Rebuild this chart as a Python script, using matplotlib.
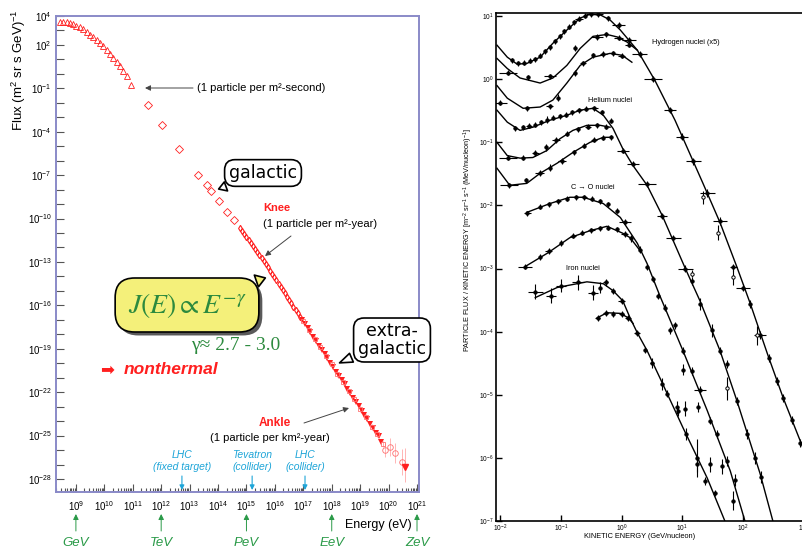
import numpy as np
import matplotlib.pyplot as plt
import matplotlib.patheffects as pe
from matplotlib.ticker import FixedLocator, FuncFormatter, LogLocator, NullFormatter, NullLocator

W, H = 802, 549

# ---------------- left panel: all-particle spectrum (log10 E [eV], log10 flux) ----------------
tri_loge = [8.44, 8.55, 8.67, 8.79, 8.90, 9.02, 9.14, 9.26, 9.38, 9.49, 9.61, 9.73,
            9.85, 9.96, 10.08, 10.20, 10.31, 10.43, 10.55, 10.67, 10.79, 10.94]
tri_logf = [3.61, 3.59, 3.57, 3.50, 3.43, 3.32, 3.23, 3.09, 2.90, 2.72, 2.54, 2.36,
            2.13, 1.90, 1.67, 1.40, 1.10, 0.80, 0.53, 0.18, -0.16, -0.79]

dia_loge = [11.54, 12.03, 12.63, 13.30, 13.61, 13.75, 14.04, 14.32, 14.56]
dia_logf = [-2.16, -3.53, -5.18, -6.96, -7.70, -8.10, -8.80, -9.56, -10.10]

knee_loge = [14.77, 14.85, 14.93, 15.00, 15.08, 15.15, 15.23, 15.30, 15.38, 15.45,
             15.53, 15.60, 15.68, 15.75, 15.83, 15.90, 15.98, 16.05, 16.13, 16.20,
             16.28, 16.35, 16.43, 16.50, 16.58, 16.65, 16.73, 16.80, 16.88]
knee_logf = [-10.66, -10.88, -11.10, -11.29, -11.50, -11.70, -11.90, -12.08, -12.30, -12.49,
             -12.72, -12.93, -13.17, -13.38, -13.62, -13.83, -14.07, -14.28, -14.52, -14.73,
             -14.97, -15.18, -15.42, -15.63, -15.87, -16.08, -16.32, -16.53, -16.77]

uhe_loge = [16.95, 17.05, 17.15, 17.25, 17.35, 17.45, 17.55, 17.65, 17.75, 17.85,
            17.95, 18.05, 18.15, 18.25, 18.35, 18.45, 18.55, 18.65, 18.75, 18.85,
            18.95, 19.05, 19.15, 19.25, 19.35, 19.45, 19.55, 19.65, 19.75]
uhe_logf = [-16.98, -17.28, -17.58, -17.87, -18.18, -18.47, -18.78, -19.07, -19.38, -19.66,
            -19.98, -20.27, -20.58, -20.86, -21.18, -21.46, -21.78, -22.05, -22.38, -22.66,
            -22.98, -23.27, -23.60, -23.86, -24.20, -24.45, -24.80, -25.05, -25.45]

uhe2_loge = [17.00, 17.20, 17.40, 17.60, 17.80, 18.00, 18.20, 18.40, 18.60, 18.80,
             19.00, 19.20, 19.40, 19.60, 19.80]
uhe2_logf = [-17.05, -17.68, -18.30, -18.86, -19.52, -20.08, -20.75, -21.30, -21.95, -22.48,
             -23.15, -23.70, -24.38, -24.88, -25.60]

top_loge = [19.87, 20.05, 20.22, 20.47]
top_logf = [-26.00, -25.80, -26.20, -26.80]
top_logerr = [0.5, 0.6, 0.7, 0.9]

limit_loge = [20.58]
limit_logf = [-27.20]

y_label_exp = [4, 2, -1, -4, -7, -10, -13, -16, -19, -22, -25, -28]
x_label_exp = list(range(9, 22))
unit_names = ['GeV', 'TeV', 'PeV', 'EeV', 'ZeV']
unit_exp = [9, 12, 15, 18, 21]
machines = ['LHC\n(fixed target)', 'Tevatron\n(collider)', 'LHC\n(collider)']
machine_loge = [12.73, 15.20, 17.06]

# ---------------- right panel: element spectra (log10 GeV/nucleon, log10 flux) ----------------
h1_curve = [(-2.05, 0.54), (-1.88, 0.35), (-1.72, 0.24), (-1.56, 0.25), (-1.34, 0.35),
            (-1.13, 0.57), (-0.90, 0.78), (-0.68, 0.97), (-0.52, 1.03), (-0.35, 1.02),
            (-0.19, 0.94), (-0.02, 0.78), (0.26, 0.46), (0.55, -0.02), (0.88, -0.65),
            (1.34, -1.65), (1.62, -2.27), (1.90, -2.98), (2.12, -3.56), (2.40, -4.35),
            (2.66, -5.05), (2.94, -5.73), (3.10, -6.13)]
h2_curve = [(-2.05, 0.33), (-1.88, 0.17), (-1.67, 0.02), (-1.34, -0.06), (-1.13, 0.02),
            (-0.90, 0.22), (-0.68, 0.49), (-0.47, 0.68), (-0.24, 0.71), (-0.07, 0.67),
            (0.09, 0.59), (0.26, 0.46)]
h3_curve = [(-2.05, -0.10), (-1.88, -0.30), (-1.62, -0.46), (-1.34, -0.44), (-1.13, -0.33),
            (-0.90, -0.06), (-0.68, 0.22), (-0.47, 0.35), (-0.19, 0.41), (0.01, 0.38),
            (0.17, 0.27)]
he1_curve = [(-2.05, -0.49), (-1.88, -0.68), (-1.67, -0.81), (-1.46, -0.76), (-1.18, -0.65),
             (-0.90, -0.57), (-0.68, -0.49), (-0.47, -0.46), (-0.30, -0.57), (-0.14, -0.78),
             (0.02, -1.10), (0.19, -1.37), (0.42, -1.68), (0.67, -2.16), (1.05, -3.00),
             (1.29, -3.51), (1.62, -4.30), (1.90, -5.10), (2.28, -6.25), (2.49, -7.00)]
he2_curve = [(-2.05, -1.00), (-1.88, -1.21), (-1.67, -1.25), (-1.46, -1.24), (-1.23, -1.13),
             (-1.01, -0.94), (-0.80, -0.81), (-0.57, -0.73), (-0.35, -0.73), (-0.19, -0.76)]
he3_curve = [(-2.05, -1.41), (-1.84, -1.68), (-1.56, -1.65), (-1.34, -1.49), (-1.06, -1.33),
             (-0.80, -1.16), (-0.52, -1.00), (-0.30, -0.92), (-0.16, -0.92)]
c1_curve = [(-1.56, -2.11), (-1.18, -1.97), (-0.85, -1.87), (-0.63, -1.87), (-0.30, -1.97),
            (-0.02, -2.19), (0.26, -2.60), (0.42, -2.92), (0.63, -3.43), (1.01, -4.30),
            (1.41, -5.25), (1.79, -6.21), (2.03, -7.00)]
c2_curve = [(-1.59, -2.97), (-1.21, -2.75), (-0.85, -2.51), (-0.52, -2.40), (-0.24, -2.33),
            (0.02, -2.44), (0.14, -2.51), (0.30, -2.71)]
fe1_curve = [(-1.42, -3.46), (-1.06, -3.30), (-0.57, -3.21), (-0.30, -3.24), (-0.14, -3.35),
             (0.02, -3.51), (0.14, -3.78), (0.26, -4.02), (0.42, -4.30), (0.63, -4.73),
             (1.01, -5.52), (1.41, -6.32), (1.70, -7.00)]
fe2_curve = [(-0.40, -3.78), (-0.24, -3.70), (-0.02, -3.71), (0.11, -3.78), (0.19, -3.87)]

# data points: (log E, log flux, x half-width in decades, y half-width in decades)
h_pts = [(-1.80, 0.30, 0, .04), (-1.70, 0.25, 0, .04), (-1.60, 0.26, 0, .04), (-1.50, 0.29, 0, .04),
         (-1.42, 0.32, 0, .04), (-1.34, 0.37, 0, .04), (-1.26, 0.44, 0, .04), (-1.18, 0.51, 0, .04),
         (-1.10, 0.60, 0, .04), (-1.02, 0.68, 0, .04), (-0.94, 0.76, 0, .04), (-0.86, 0.83, 0, .04),
         (-0.78, 0.90, 0, .04), (-0.70, 0.96, .06, .04), (-0.60, 1.01, 0, .04), (-0.50, 1.03, .08, .04),
         (-0.38, 1.03, .08, .04), (-0.22, 0.97, 0, .04), (-0.05, 0.86, .10, .04), (0.12, 0.62, .12, .05),
         (0.30, 0.40, .12, .05), (0.52, 0.00, .15, .05), (0.80, -0.49, .10, .05), (1.00, -0.91, .10, .06),
         (1.18, -1.30, .12, .06), (1.41, -1.80, .12, .06), (1.62, -2.25, .12, .06), (1.84, -2.98, .06, .06),
         (2.00, -3.30, .12, .06), (2.12, -3.56, 0, .06), (2.28, -4.05, .10, .06), (2.42, -4.42, 0, .06),
         (2.55, -4.78, 0, .06), (2.66, -5.05, 0, .06), (2.80, -5.40, 0, .06), (2.94, -5.76, 0, .06)]
h_side_pts = [(1.34, -1.87, 0, .10), (1.59, -2.43, 0, .12), (1.84, -3.14, 0, .12), (2.23, -4.06, 0, .15)]
h2_pts = [(-1.87, 0.10, .15, .04), (-1.54, 0.03, 0, .04), (-1.18, 0.05, .10, .04), (-0.77, 0.49, 0, .05),
          (-0.40, 0.67, .10, .04), (-0.25, 0.71, 0, .04), (-0.05, 0.66, .08, .04), (0.12, 0.55, .06, .04)]
h3_pts = [(-2.00, -0.37, .12, .04), (-1.56, -0.46, 0, .04), (-1.18, -0.43, .06, .04), (-1.05, -0.29, 0, .05),
          (-0.77, 0.10, 0, .05), (-0.63, 0.25, .05, .04), (-0.47, 0.38, 0, .04), (-0.30, 0.40, .06, .04),
          (-0.14, 0.41, 0, .04), (0.00, 0.37, .06, .04)]
he1_pts = [(-1.75, -0.78, 0, .04), (-1.62, -0.76, 0, .04), (-1.52, -0.74, .05, .04), (-1.42, -0.72, 0, .04),
           (-1.32, -0.68, 0, .04), (-1.22, -0.64, 0, .05), (-1.12, -0.61, 0, .04), (-1.02, -0.59, 0, .04),
           (-0.92, -0.56, 0, .04), (-0.82, -0.52, 0, .04), (-0.70, -0.49, .05, .04), (-0.58, -0.47, 0, .04),
           (-0.45, -0.46, .06, .04), (-0.32, -0.52, 0, .04), (-0.18, -0.66, 0, .04)]
he2_pts = [(-1.87, -1.24, .15, .04), (-1.62, -1.24, 0, .04), (-1.42, -1.17, .06, .05), (-1.25, -1.08, 0, .05),
           (-1.08, -0.96, .06, .05), (-0.90, -0.86, 0, .04), (-0.72, -0.79, 0, .04), (-0.55, -0.75, .05, .04),
           (-0.40, -0.73, 0, .04), (-0.25, -0.75, 0, .04)]
he3_pts = [(-1.85, -1.68, .15, .04), (-1.58, -1.60, 0, .04), (-1.35, -1.48, .08, .05), (-1.18, -1.40, 0, .05),
           (-0.98, -1.30, .06, .05), (-0.78, -1.16, 0, .04), (-0.62, -1.05, 0, .04), (-0.45, -0.96, .05, .04),
           (-0.30, -0.93, 0, .04), (-0.18, -0.92, 0, .04)]
he_pts = [(0.02, -1.13, .10, .04), (0.19, -1.34, .10, .04), (0.42, -1.66, .15, .05), (0.67, -2.17, .08, .05),
          (0.85, -2.52, .12, .05), (1.05, -3.00, .12, .05), (1.16, -3.20, 0, .06), (1.29, -3.56, 0, .10),
          (1.49, -3.98, 0, .10), (1.62, -4.30, 0, .06), (1.74, -4.51, 0, .06), (1.90, -5.10, 0, .06),
          (2.07, -5.62, 0, .08), (2.20, -6.00, 0, .10), (2.30, -6.30, 0, .10)]
he_side_pts = [(1.16, -3.08, 0, .06), (1.74, -4.90, 0, .18)]
c1_pts = [(-1.55, -2.12, .06, .04), (-1.35, -2.02, 0, .04), (-1.20, -1.98, 0, .04), (-1.05, -1.93, .05, .04),
          (-0.90, -1.89, 0, .04), (-0.75, -1.87, 0, .04), (-0.62, -1.87, .05, .04), (-0.48, -1.89, 0, .04),
          (-0.35, -1.93, 0, .04), (-0.22, -1.98, 0, .04), (-0.08, -2.08, 0, .04), (0.05, -2.26, .10, .04)]
c2_pts = [(-1.59, -2.97, .12, .04), (-1.35, -2.82, 0, .05), (-1.20, -2.72, .06, .05), (-1.00, -2.60, 0, .05),
          (-0.80, -2.48, .05, .04), (-0.65, -2.43, 0, .04), (-0.50, -2.39, .06, .04), (-0.35, -2.36, 0, .04),
          (-0.22, -2.35, 0, .04), (-0.08, -2.38, 0, .04), (0.05, -2.45, .06, .05), (0.16, -2.52, 0, .06)]
c_pts = [(0.30, -2.70, 0, .05), (0.42, -2.98, 0, .05), (0.52, -3.16, 0, .05), (0.60, -3.43, 0, .05),
         (0.72, -3.62, 0, .06), (0.88, -3.90, 0, .06), (1.01, -4.30, 0, .06), (1.16, -4.62, 0, .06),
         (1.29, -4.92, .10, .06), (1.46, -5.41, 0, .06), (1.57, -5.62, 0, .06), (1.74, -6.05, 0, .08),
         (1.86, -6.35, 0, .10)]
c_side_pts = [(0.80, -3.98, 0, .06), (1.01, -4.60, 0, .08), (1.05, -5.22, 0, .12), (1.26, -5.20, 0, .08),
              (1.46, -6.10, 0, .12), (1.65, -6.13, 0, .12), (1.84, -6.68, 0, .15)]
fe1_pts = [(-1.42, -3.37, .12, .12), (-1.16, -3.43, .08, .12), (-1.00, -3.27, .08, .10), (-0.72, -3.22, .10, .12),
           (-0.47, -3.38, .08, .12), (-0.35, -3.30, 0, .08), (-0.26, -3.22, .04, .06), (-0.14, -3.35, .04, .05),
           (0.00, -3.51, .06, .05)]
fe2_pts = [(-0.39, -3.78, .04, .05), (-0.26, -3.70, .04, .05), (-0.14, -3.72, 0, .05), (0.00, -3.72, .04, .05),
           (0.11, -3.78, .05, .05)]
fe_pts = [(0.26, -4.02, .05, .05), (0.39, -4.29, 0, .05), (0.50, -4.49, .03, .08), (0.67, -4.83, 0, .10),
          (0.75, -4.98, 0, .06), (0.93, -5.25, 0, .08), (1.06, -5.62, 0, .10), (1.24, -6.10, 0, .12),
          (1.38, -6.37, 0, .06), (1.54, -6.56, 0, .05)]
fe_side_pts = [(0.91, -5.20, 0, .10), (1.24, -6.00, 0, .30)]

right_labels = ['Hydrogen nuclei (x5)', 'Helium nuclei', 'C \u2192 O nuclei', 'Iron nuclei']

# ---------------- style ----------------
plt.rcParams['font.family'] = ['Liberation Sans', 'DejaVu Sans']
plt.rcParams['mathtext.fontset'] = 'custom'
plt.rcParams['mathtext.rm'] = 'Liberation Sans'
plt.rcParams['mathtext.it'] = 'Liberation Sans:italic'
plt.rcParams['mathtext.bf'] = 'Liberation Sans:bold'

red = '#ff1f1f'
green = '#2a9a48'
blue = '#1ea5d8'
frame = '#8a8ac8'

fig = plt.figure(figsize=(W / 100, H / 100), dpi=100)


def fp(x, y):
    # image pixel (from top-left) -> figure pixels
    return (x, H - y)


def ftext(x, y, s, **kw):
    return fig.text(x / W, 1 - y / H, s, **kw)


# ================= left panel =================
ax1 = fig.add_axes([56 / W, 1 - 492 / H, (419 - 56) / W, (492 - 16) / H])
ax1.set_xscale('log')
ax1.set_yscale('log')
ax1.set_xlim(10 ** 8.3, 10 ** 21.07)
ax1.set_ylim(10 ** -28.9, 1e4)
for s in ax1.spines.values():
    s.set_color(frame)
    s.set_linewidth(1.4)

ax1.yaxis.set_major_locator(FixedLocator([10.0 ** k for k in range(-28, 5)]))
ax1.yaxis.set_minor_locator(NullLocator())
ax1.yaxis.set_major_formatter(FuncFormatter(
    lambda v, p: r'$10^{%d}$' % round(np.log10(v)) if round(np.log10(v)) in y_label_exp else ''))
ax1.xaxis.set_major_locator(FixedLocator([10.0 ** k for k in x_label_exp]))
ax1.xaxis.set_minor_locator(LogLocator(base=10, subs=np.arange(2, 10), numticks=60))
ax1.xaxis.set_minor_formatter(NullFormatter())
ax1.xaxis.set_major_formatter(FuncFormatter(lambda v, p: r'$10^{%d}$' % round(np.log10(v))))
ax1.tick_params(which='both', direction='in', color='#555555', width=0.8, labelsize=7)
ax1.tick_params(axis='x', which='major', length=6, pad=5)
ax1.tick_params(axis='x', which='minor', length=3)
ax1.tick_params(axis='y', which='major', length=6, pad=3)

E = lambda a: 10.0 ** np.array(a)

ax1.plot(E(tri_loge), E(tri_logf), '^', ms=4.5, mfc='none', mec=red, mew=0.6)
ax1.plot(E(dia_loge), E(dia_logf), 'D', ms=3.8, mfc='none', mec=red, mew=0.6)
ax1.plot(E(knee_loge), E(knee_logf), 'd', ms=3.2, mfc='none', mec=red, mew=0.8)
ax1.errorbar(E(uhe2_loge), E(uhe2_logf),
             yerr=[E(uhe2_logf) * (1 - 10 ** -0.2), E(uhe2_logf) * (10 ** 0.2 - 1)],
             fmt='s', ms=3.5, mfc='none', mec='#ff7070', ecolor='#ffaaaa', elinewidth=0.7, mew=0.6)
ax1.plot(E(uhe_loge), E(uhe_logf), 'v', ms=4.2, color=red, mew=0)
top_f = E(top_logf)
ax1.errorbar(E(top_loge), top_f,
             yerr=[top_f * (1 - 10 ** -np.array(top_logerr)), top_f * (10 ** np.array(top_logerr) - 1)],
             fmt='o', ms=4, mfc='none', mec='#ff7070', ecolor='#ffaaaa', elinewidth=0.6, mew=0.6)
ax1.errorbar(E(limit_loge), E(limit_logf), yerr=[[E(limit_logf)[0] * 0.9], [E(limit_logf)[0] * 20]],
             fmt='v', ms=4.5, color=red, ecolor='#ffaaaa', elinewidth=0.6)

# annotations
arrow_k = dict(arrowstyle='-|>', color='#444444', lw=0.7, mutation_scale=8, shrinkA=0, shrinkB=0)
ftext(197, 88, '(1 particle per m\u00b2-second)', fontsize=8, ha='left', va='center')
ax1.annotate('', xy=fp(145, 88), xycoords='figure pixels', xytext=fp(193, 88),
             textcoords='figure pixels', arrowprops=arrow_k)

bubble = dict(boxstyle='round,pad=0.25,rounding_size=0.6', fc='white', ec='black', lw=1.2)
ax1.annotate('galactic', xy=fp(216, 190), xycoords='figure pixels', xytext=fp(263, 173),
             textcoords='figure pixels', ha='center', va='center', fontsize=12.5,
             family='DejaVu Sans', bbox=bubble, annotation_clip=False,
             arrowprops=dict(arrowstyle='wedge,tail_width=0.55', fc='white', ec='black', lw=1.2))
ax1.annotate('extra-\ngalactic', xy=fp(337, 364), xycoords='figure pixels', xytext=fp(392, 340),
             textcoords='figure pixels', ha='center', va='center', fontsize=12.5,
             family='DejaVu Sans', linespacing=0.95, bbox=bubble, annotation_clip=False,
             arrowprops=dict(arrowstyle='wedge,tail_width=0.55', fc='white', ec='black', lw=1.2))

ftext(263, 208, 'Knee', fontsize=8, color=red, weight='bold', ha='left', va='center')
ftext(263, 224, '(1 particle per m\u00b2-year)', fontsize=8, ha='left', va='center')
ax1.annotate('', xy=fp(265, 256), xycoords='figure pixels', xytext=fp(291, 236),
             textcoords='figure pixels', arrowprops=arrow_k)

# yellow formula box, its patch carries a drop shadow
yellow_box = dict(boxstyle='round,pad=0.45,rounding_size=0.7', fc='#f4f07a', ec='black', lw=1.2)
jbox = ax1.annotate(r'$J(E)\propto E^{-\gamma}$', xy=fp(268, 277), xycoords='figure pixels',
                    xytext=fp(187, 305), textcoords='figure pixels', ha='center', va='center',
                    fontsize=20, color='#2c8a3e', math_fontfamily='stix', bbox=yellow_box,
                    annotation_clip=False, zorder=6,
                    arrowprops=dict(arrowstyle='wedge,tail_width=0.45', fc='#f4f07a', ec='black',
                                    lw=1.2))
jbox.get_bbox_patch().set_path_effects([
    pe.SimplePatchShadow(offset=(2.5, -2.5), shadow_rgbFace='#5a5a5a', alpha=1.0), pe.Normal()])
ftext(236, 345, '\u03b3\u2248 2.7 - 3.0', fontsize=14, color='#2c8a3e', ha='center', va='center',
      family=['Liberation Serif', 'DejaVu Serif'])
ftext(100, 370, '\u27a1', fontsize=12, color=red, ha='left', va='center', family='DejaVu Sans')
ftext(124, 370, 'nonthermal', fontsize=12.5, color=red, weight='bold', style='italic',
      ha='left', va='center')

ftext(275, 423, 'Ankle', fontsize=8.5, color=red, weight='bold', ha='center', va='center')
ftext(270, 438, '(1 particle per km\u00b2-year)', fontsize=8, ha='center', va='center')
ax1.annotate('', xy=fp(349, 408), xycoords='figure pixels', xytext=fp(304, 423),
             textcoords='figure pixels', arrowprops=arrow_k)

# accelerators
for name, le in zip(machines, machine_loge):
    ax1.annotate(name, xy=(10 ** le, H - 461), xycoords=('data', 'figure pixels'), ha='center',
                 va='center', fontsize=7.5, color=blue, style='italic', linespacing=1.15,
                 annotation_clip=False)
    ax1.annotate('', xy=(10 ** le, H - 490), xycoords=('data', 'figure pixels'),
                 xytext=(10 ** le, H - 476), textcoords=('data', 'figure pixels'),
                 arrowprops=dict(arrowstyle='-|>', color=blue, lw=0.8, mutation_scale=7,
                                 shrinkA=0, shrinkB=0), annotation_clip=False)

# energy units
for name, k in zip(unit_names, unit_exp):
    ax1.annotate('', xy=(10.0 ** k, H - 514), xycoords=('data', 'figure pixels'),
                 xytext=(10.0 ** k, H - 531), textcoords=('data', 'figure pixels'),
                 arrowprops=dict(arrowstyle='-|>', color=green, lw=0.7, mutation_scale=8,
                                 shrinkA=0, shrinkB=0), annotation_clip=False)
    ax1.annotate(name, xy=(10.0 ** k, H - 543), xycoords=('data', 'figure pixels'), ha='center',
                 va='center', fontsize=9.5, color=green, style='italic', annotation_clip=False)

ftext(378, 525, 'Energy (eV)', fontsize=9, ha='center', va='center')
ftext(19, 70, 'Flux (m$^2$ sr s GeV)$^{-1}$', fontsize=9.5, rotation=90, ha='center', va='center')

# ================= right panel =================
ax2 = fig.add_axes([496 / W, 1 - 521 / H, (830 - 496) / W, (521 - 13) / H])
ax2.set_xscale('log')
ax2.set_yscale('log')
ax2.set_xlim(10 ** -2.066, 10 ** 3.43)
ax2.set_ylim(1e-7, 10 ** 1.05)
for s in ax2.spines.values():
    s.set_color('black')
    s.set_linewidth(1.2)
ax2.xaxis.set_major_locator(FixedLocator([10.0 ** k for k in range(-2, 4)]))
ax2.yaxis.set_major_locator(FixedLocator([10.0 ** k for k in range(-7, 2)]))
ax2.xaxis.set_minor_locator(NullLocator())
ax2.yaxis.set_minor_locator(NullLocator())
dec_fmt = FuncFormatter(lambda v, p: r'$10^{%d}$' % round(np.log10(v)))
ax2.xaxis.set_major_formatter(dec_fmt)
ax2.yaxis.set_major_formatter(dec_fmt)
ax2.tick_params(direction='in', length=4, width=1, labelsize=4.8, pad=1.5)
ax2.tick_params(axis='x', pad=1)

for curve in [h1_curve, h2_curve, h3_curve, he1_curve, he2_curve, he3_curve,
              c1_curve, c2_curve, fe1_curve, fe2_curve]:
    lx, ly = np.array(curve).T
    ax2.plot(10 ** lx, 10 ** ly, color='black', lw=1.0)


def plot_points(pts, open_marker=False):
    le, lf, xw, yw = np.array(pts).T
    e, f = 10 ** le, 10 ** lf
    ax2.errorbar(e, f, xerr=[e - e / 10 ** xw, e * 10 ** xw - e],
                 yerr=[f - f / 10 ** yw, f * 10 ** yw - f], fmt='o', ms=2.4,
                 color='black', mfc='white' if open_marker else 'black', mew=0.7,
                 elinewidth=0.8, capsize=0)


for grp in [h_pts, h2_pts, h3_pts, he1_pts, he2_pts, he3_pts, he_pts, c1_pts, c2_pts,
            c_pts, c_side_pts, fe1_pts, fe2_pts, fe_pts, fe_side_pts]:
    plot_points(grp)
for grp in [h_side_pts, he_side_pts]:
    plot_points(grp, open_marker=True)

for s, (x, y) in zip(right_labels, [(686, 42), (610, 100), (593, 187), (583, 269)]):
    ftext(x, y, s, fontsize=5.3, ha='center', va='center')

ftext(468, 240, 'PARTICLE FLUX / KINETIC ENERGY [m$^{-2}$ sr$^{-1}$ s$^{-1}$ (MeV/nucleon)$^{-1}$]',
      fontsize=5.2, rotation=90, ha='center', va='center')
ftext(640, 537, 'KINETIC ENERGY (GeV/nucleon)', fontsize=5.3, ha='center', va='center')

fig.savefig('out.png', dpi=100)
